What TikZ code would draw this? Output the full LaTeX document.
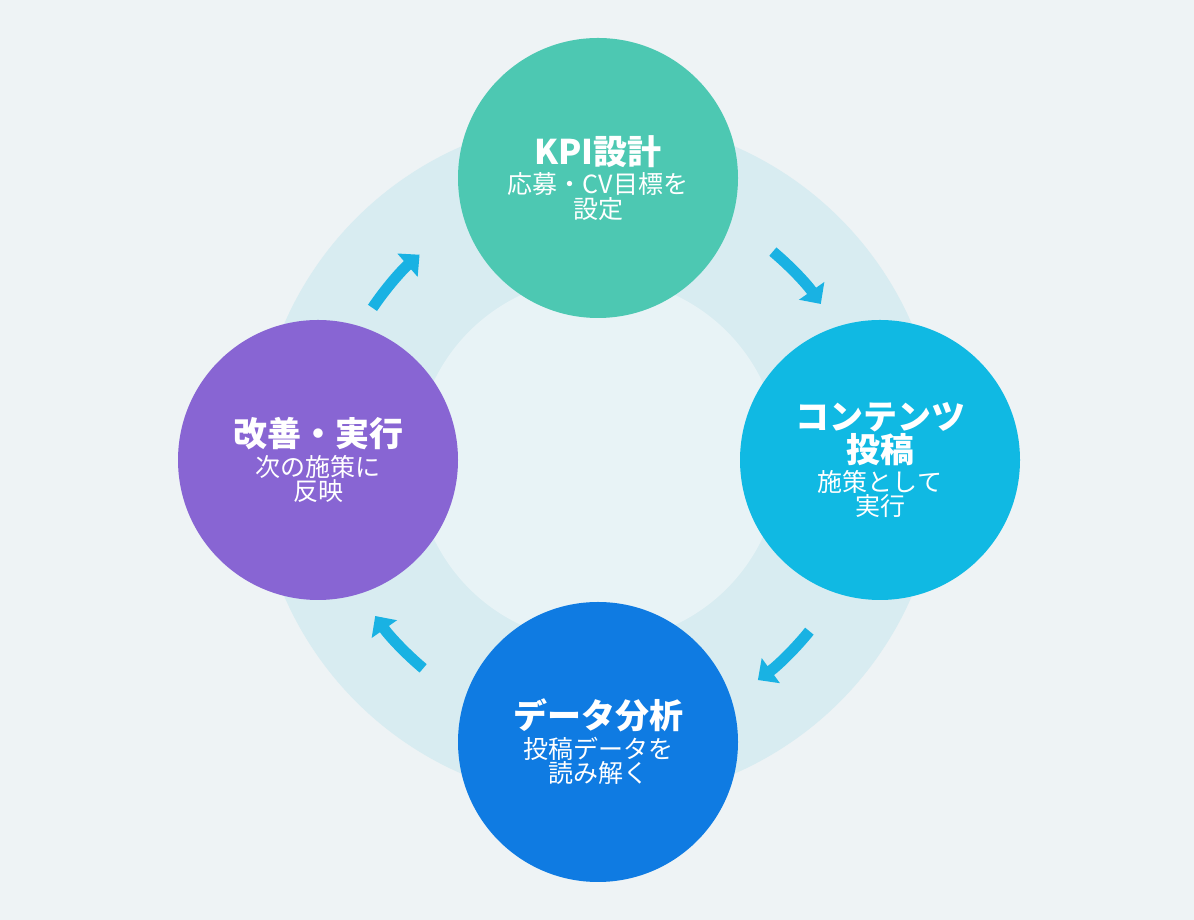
\documentclass[tikz,border=0pt]{standalone}
\usepackage{fontspec}
\setmainfont{Noto Sans CJK JP}
\usetikzlibrary{arrows.meta}
\definecolor{bg}{HTML}{EEF3F5}
\definecolor{ring}{HTML}{D8ECF1}
\definecolor{inner}{HTML}{E8F3F6}
\definecolor{cA}{HTML}{4DC8B2}
\definecolor{cB}{HTML}{10B9E3}
\definecolor{cC}{HTML}{0F7BE2}
\definecolor{cD}{HTML}{8865D3}
\definecolor{arr}{HTML}{19B2E3}
\newcommand{\ttlf}{\fontsize{34}{42}\selectfont\bfseries}
\newcommand{\subf}{\fontsize{25}{31}\selectfont\mdseries}
\begin{document}
\begin{tikzpicture}[x=1pt,y=1pt,
  stepnode/.style={circle,minimum size=280pt,inner sep=0pt,text=white,align=center},
  cyc/.style={arr,line width=11pt,-{Triangle[length=16pt,width=30pt]}}]
\fill[bg] (0,0) rectangle (1194,920);
\useasboundingbox (0,0) rectangle (1194,920);
\coordinate (c) at (598,460);
\fill[ring] (c) circle[radius=342];
\fill[inner] (c) circle[radius=182];
\node[stepnode,fill=cA] (a) at (598,742) {\ttlf KPI設計\\[4pt]\subf 応募・CV目標を\\\subf 設定};
\node[stepnode,fill=cB] (b) at (880,460) {\ttlf コンテンツ\\\ttlf 投稿\\[4pt]\subf 施策として\\\subf 実行};
\node[stepnode,fill=cC] (d) at (598,178) {\ttlf データ分析\\[4pt]\subf 投稿データを\\\subf 読み解く};
\node[stepnode,fill=cD] (e) at (318,460) {\ttlf 改善・実行\\[4pt]\subf 次の施策に\\\subf 反映};
\draw[cyc] ([shift={(50:272)}]c) arc[start angle=50,end angle=35,radius=272];
\draw[cyc] ([shift={(-39:272)}]c) arc[start angle=-39,end angle=-54,radius=272];
\draw[cyc] ([shift={(-130:272)}]c) arc[start angle=-130,end angle=-145,radius=272];
\draw[cyc] ([shift={(146:272)}]c) arc[start angle=146,end angle=131,radius=272];
\end{tikzpicture}
\end{document}
